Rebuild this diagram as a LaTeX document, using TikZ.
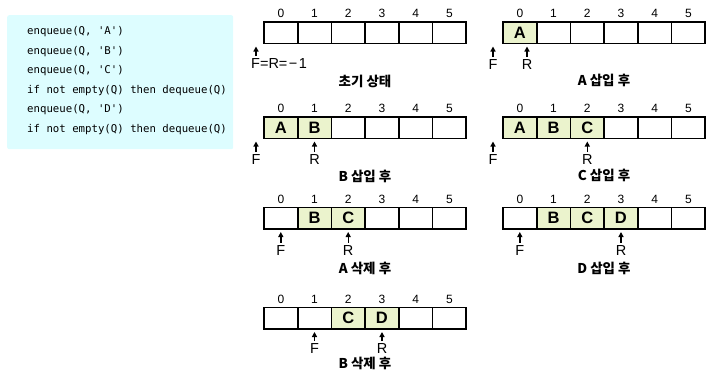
\documentclass[tikz,border=0pt]{standalone}
\usepackage{fontspec}
\setmainfont{Liberation Sans}
\newfontfamily\kr{Noto Sans CJK KR}
\newfontfamily\codefont{DejaVu Sans Mono}
\usetikzlibrary{arrows.meta,calc}
\definecolor{cellfill}{RGB}{235,243,205}
\definecolor{codebg}{RGB}{221,253,255}
\tikzset{
 cell/.style={draw=black, line width=1.6pt, minimum width=33.7pt, minimum height=21.5pt, inner sep=0pt, outer sep=0pt},
 full/.style={cell, fill=cellfill, font=\bfseries\fontsize{16.5}{16.5}\selectfont},
 idx/.style={font=\fontsize{12}{12}\selectfont, inner sep=0pt},
 ptrlabel/.style={font=\fontsize{14.5}{14.5}\selectfont, inner sep=0pt, anchor=north},
 ptr/.style={-{Triangle[length=5pt,width=5pt]}, line width=1.4pt},
 caption/.style={font=\kr\bfseries\fontsize{13.5}{13.5}\selectfont, inner sep=0pt},
 code/.style={font=\codefont\fontsize{10.7}{10.7}\selectfont, anchor=west, inner sep=0pt},
}
\newcommand{\qcells}[3]{%
  \foreach \i in {0,...,5}{
    \node[cell] (#1\i) at ({#2+(\i+0.5)*33.7},{#3+10.75}) {};
    \node[idx] (#1n\i) at ({#2+(\i+0.5)*33.7},{#3-8.5}) {\i};
  }}
\newcommand{\qfill}[3]{\node[full] (#1L#2) at (#1#2) {#3};}
\newcommand{\qptr}[5]{%
  \coordinate (#1t) at (#2,{#3+3});
  \node[ptrlabel] (#1) at (#2,{#3+#5}) {#4};
  \draw[ptr, shorten <=2.5pt] (#1.north) -- (#1t);}
\def\sq{\char39\relax}
\begin{document}
\begin{tikzpicture}[x=1pt,y=-1pt]
\useasboundingbox (0,0) rectangle (716,389);
% code box
\node[fill=codebg, rounded corners=2pt, minimum width=226pt, minimum height=134pt, anchor=north west, inner sep=0pt] (codebox) at (7,15) {};
\node[code] (l1) at (27,32) {enqueue(Q, \sq A\sq)};
\node[code] (l2) at (27,51.5) {enqueue(Q, \sq B\sq)};
\node[code] (l3) at (27,71) {enqueue(Q, \sq C\sq)};
\node[code] (l4) at (27,90.5) {if not empty(Q) then dequeue(Q)};
\node[code] (l5) at (27,110) {enqueue(Q, \sq D\sq)};
\node[code] (l6) at (27,129.5) {if not empty(Q) then dequeue(Q)};
% panel 1
\qcells{a}{264}{22}
\coordinate (aFt) at (256,46.5);
\coordinate (aFb) at (256,56);
\draw[ptr] (aFb) -- (aFt);
\node[ptrlabel, anchor=north west] (aF) at (251,58) {F=R=\hspace{1.5pt}−\hspace{1.5pt}1};
\node[caption] (acap) at (365,81) {초기 상태};
% panel 2
\qcells{b}{503}{22}
\qfill{b}{0}{A}
\qptr{bF}{493}{43.5}{F}{16}
\qptr{bR}{527}{43.5}{R}{16}
\node[caption] (bcap) at (604,80) {A 삽입 후};
% panel 3
\qcells{c}{264}{117}
\qfill{c}{0}{A}\qfill{c}{1}{B}
\qptr{cF}{256}{138.5}{F}{16}
\qptr{cR}{314.5}{138.5}{R}{16}
\node[caption] (ccap) at (365,176) {B 삽입 후};
% panel 4
\qcells{d}{503}{117}
\qfill{d}{0}{A}\qfill{d}{1}{B}\qfill{d}{2}{C}
\qptr{dF}{493}{138.5}{F}{16}
\qptr{dR}{587.3}{138.5}{R}{16}
\node[caption] (dcap) at (604,175) {C 삽입 후};
% panel 5
\qcells{e}{264}{207.5}
\qfill{e}{1}{B}\qfill{e}{2}{C}
\qptr{eF}{280.8}{229}{F}{16}
\qptr{eR}{348.2}{229}{R}{16}
\node[caption] (ecap) at (365,268) {A 삭제 후};
% panel 6
\qcells{f}{503}{207.5}
\qfill{f}{1}{B}\qfill{f}{2}{C}\qfill{f}{3}{D}
\qptr{fF}{519.8}{229}{F}{16}
\qptr{fR}{621}{229}{R}{16}
\node[caption] (fcap) at (604,268) {D 삽입 후};
% panel 7
\qcells{g}{264}{307.5}
\qfill{g}{2}{C}\qfill{g}{3}{D}
\qptr{gF}{314.5}{329}{F}{14.5}
\qptr{gR}{382}{329}{R}{14.5}
\node[caption] (gcap) at (365,363.5) {B 삭제 후};
\end{tikzpicture}
\end{document}
